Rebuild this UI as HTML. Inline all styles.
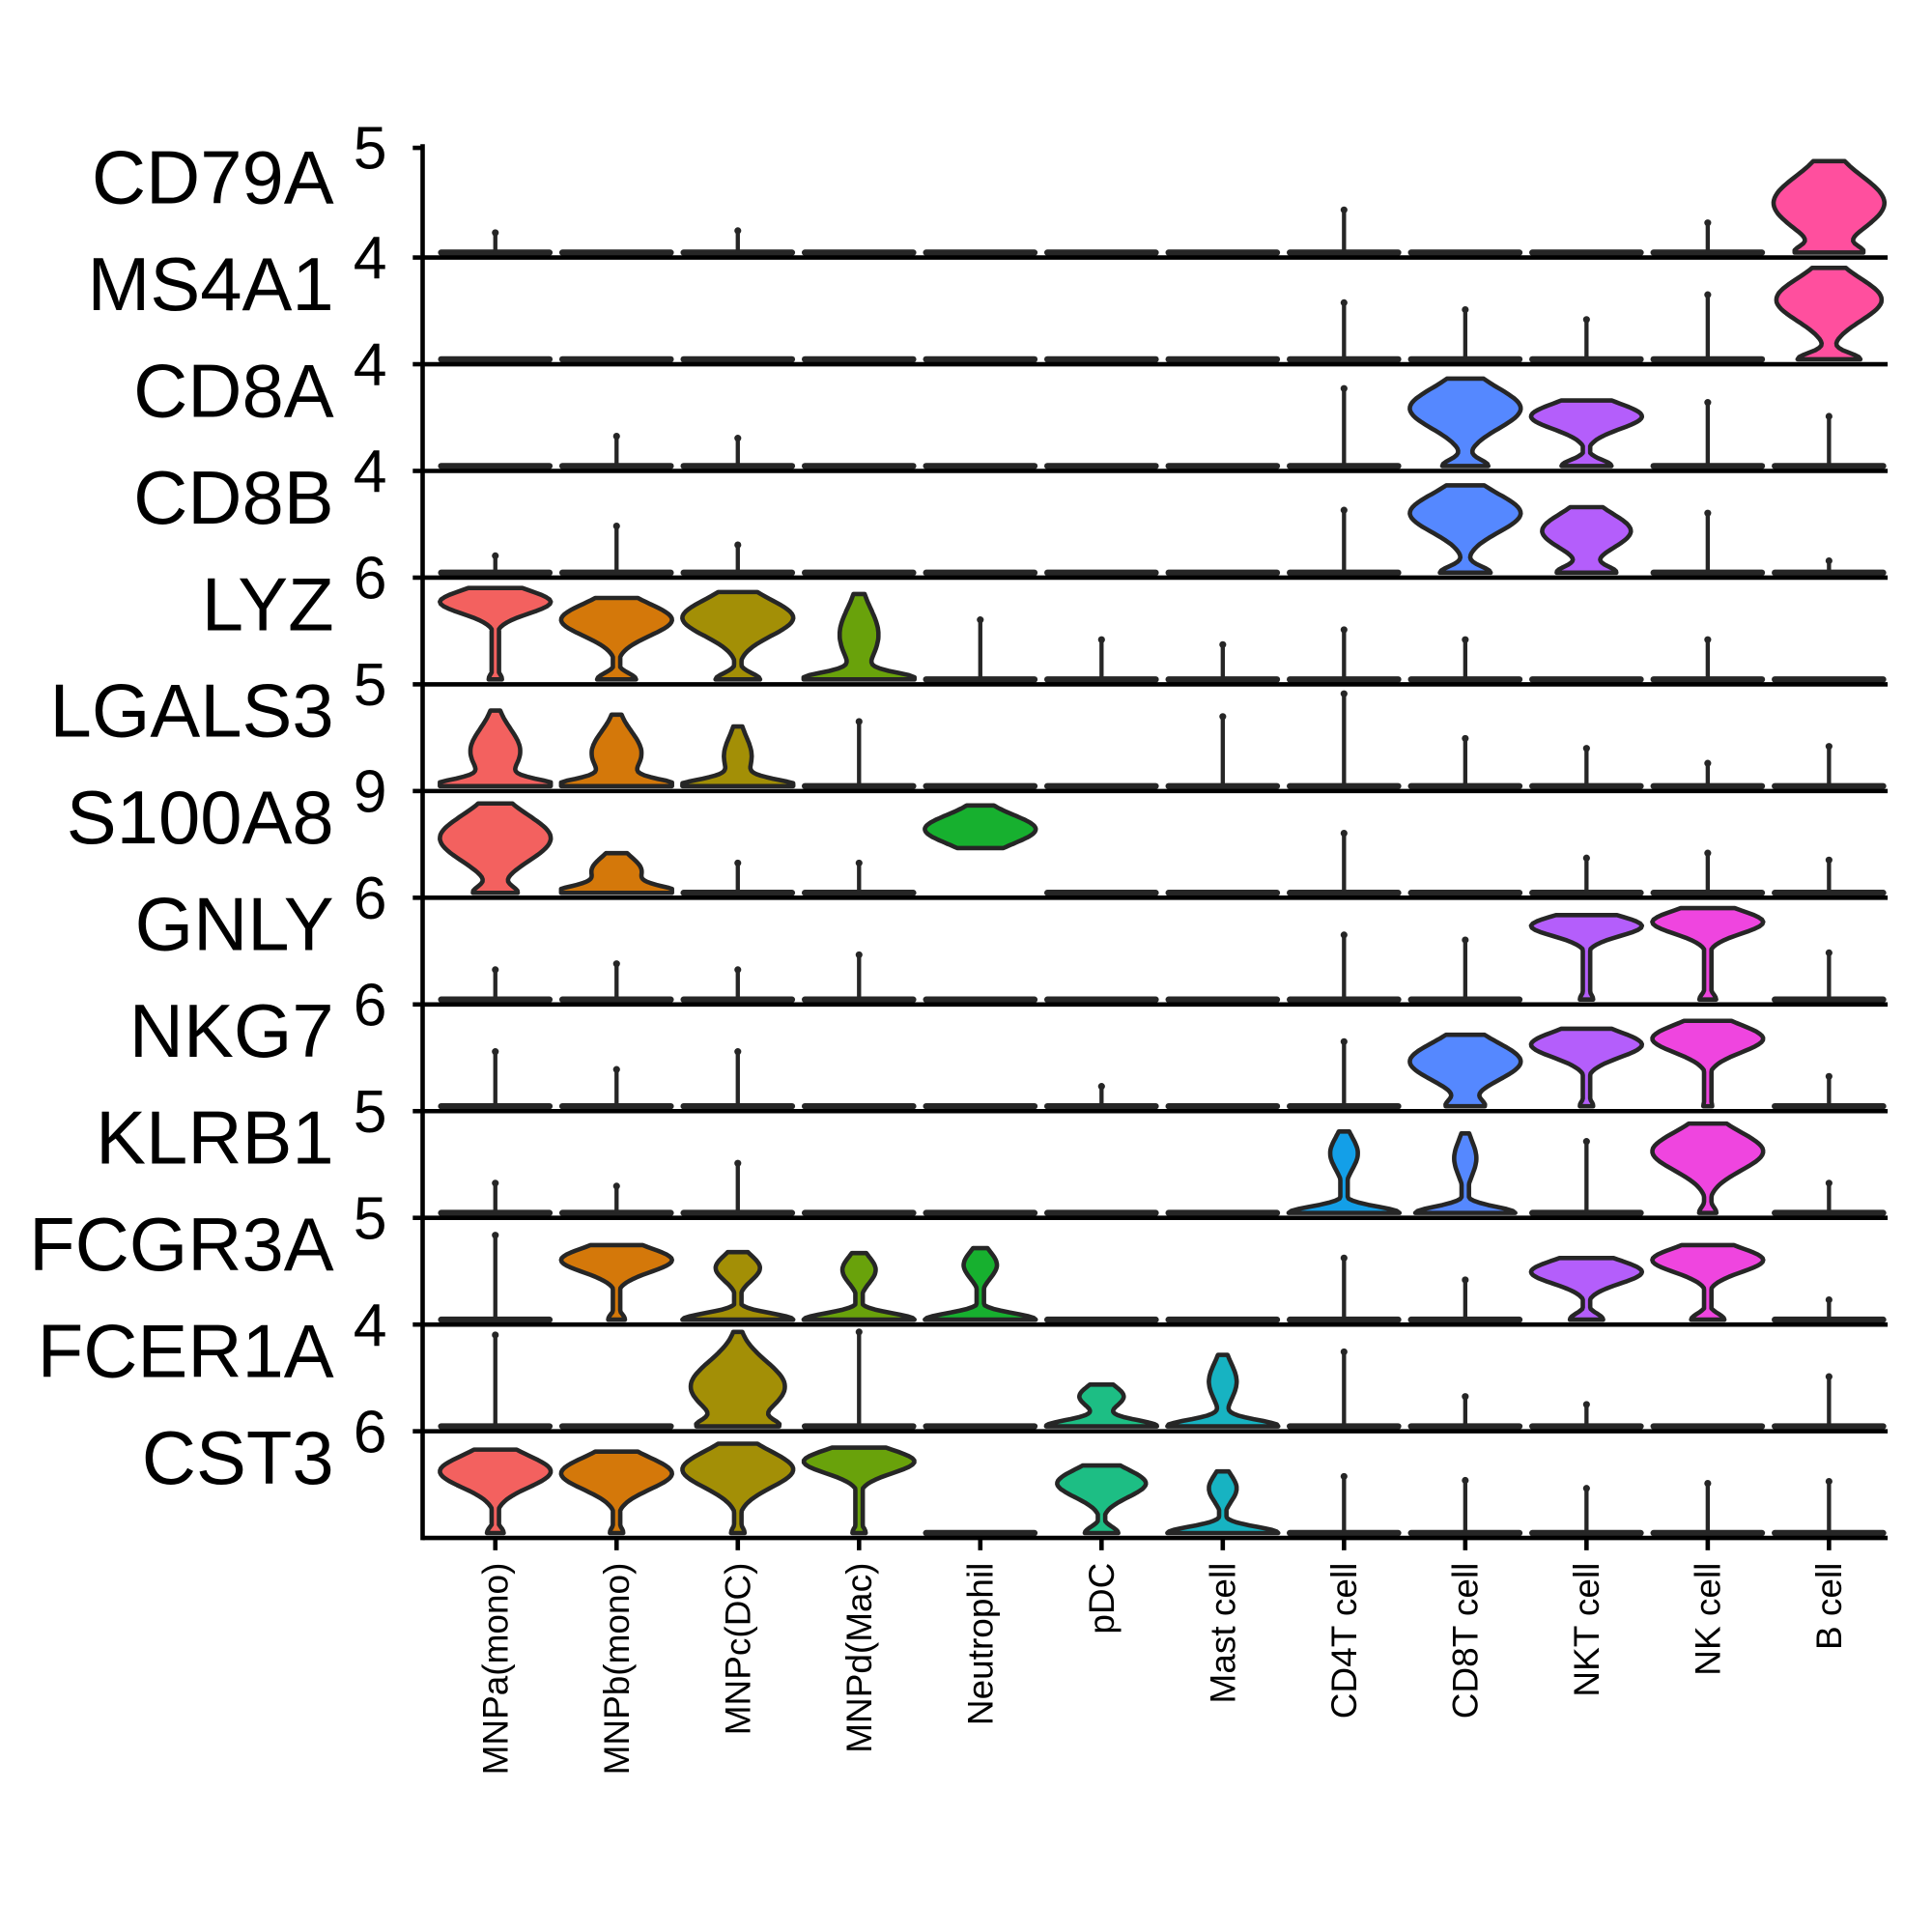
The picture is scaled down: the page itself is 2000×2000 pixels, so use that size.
<!DOCTYPE html>
<html><head><meta charset="utf-8"><style>
html,body{margin:0;padding:0;background:#fff;}
svg{display:block;}
text{font-family:"Liberation Sans",Arial,sans-serif;fill:#000;}
</style></head><body>
<svg id="chart" width="2000" height="2000" viewBox="0 0 1568 1568" xmlns="http://www.w3.org/2000/svg">
<g id="marks"></g>
<g id="axes"></g>
</svg>
<script>
const genes = ["CD79A","MS4A1","CD8A","CD8B","LYZ","LGALS3","S100A8","GNLY","NKG7","KLRB1","FCGR3A","FCER1A","CST3"];
const tickLabels = ["5","4","4","4","6","5","9","6","6","5","5","4","6"];
const clusters = ["MNPa(mono)","MNPb(mono)","MNPc(DC)","MNPd(Mac)","Neutrophil","pDC","Mast cell","CD4T cell","CD8T cell","NKT cell","NK cell","B cell"];
const colors = ["#F3615F","#D4780A","#A38F06","#69A20B","#17B02F","#1DBE84","#17B3C2","#139FE8","#5588FF","#B45EFB","#EF45DF","#FF4F9E"];
// violin top (fraction of panel), 0 = no violin
const topVals = [
 [0,0,0,0,0,0,0,0,0,0,0,.92],
 [0,0,0,0,0,0,0,0,0,0,0,.92],
 [0,0,0,0,0,0,0,0,.88,.66,0,0],
 [0,0,0,0,0,0,0,0,.88,.66,0,0],
 [.92,.82,.88,.86,0,0,0,0,0,0,0,0],
 [.76,.72,.6,0,0,0,0,0,0,0,0,0],
 [.9,.4,0,0,.88,0,0,0,0,0,0,0],
 [0,0,0,0,0,0,0,0,0,.85,.92,0],
 [0,0,0,0,0,0,0,0,.72,.78,.86,0],
 [0,0,0,0,0,0,0,.82,.8,0,.9,0],
 [0,.75,.68,.67,.72,0,0,0,0,.62,.75,0],
 [0,0,.95,0,0,.42,.72,0,0,0,0,0],
 [.84,.82,.9,.86,0,.68,.62,0,0,0,0,0]];
// height of widest point (fraction of panel)
const peakVals = [
 [0,0,0,0,0,0,0,0,0,0,0,.5],
 [0,0,0,0,0,0,0,0,0,0,0,.6],
 [0,0,0,0,0,0,0,0,.58,.5,0,0],
 [0,0,0,0,0,0,0,0,.6,.42,0,0],
 [.78,.6,.62,.45,0,0,0,0,0,0,0,0],
 [.35,.33,.3,0,0,0,0,0,0,0,0,0],
 [.55,.22,0,0,.64,0,0,0,0,0,0,0],
 [0,0,0,0,0,0,0,0,0,.74,.78,0],
 [0,0,0,0,0,0,0,0,.45,.62,.68,0],
 [0,0,0,0,0,0,0,.6,.55,0,.62,0],
 [0,.6,.52,.5,.55,0,0,0,0,.48,.6,0],
 [0,0,.4,0,0,.3,.45,0,0,0,0,0],
 [.62,.6,.64,.72,0,.5,.45,0,0,0,0,0]];
// relative width at peak (0..1)
const widthVals = [
 [0,0,0,0,0,0,0,0,0,0,0,1],
 [0,0,0,0,0,0,0,0,0,0,0,.95],
 [0,0,0,0,0,0,0,0,1,1,0,0],
 [0,0,0,0,0,0,0,0,1,.8,0,0],
 [1,1,1,.35,0,0,0,0,0,0,0,0],
 [.45,.45,.25,0,0,0,0,0,0,0,0,0],
 [1,.45,0,0,1,0,0,0,0,0,0,0],
 [0,0,0,0,0,0,0,0,0,1,1,0],
 [0,0,0,0,0,0,0,0,1,1,1,0],
 [0,0,0,0,0,0,0,.25,.2,0,1,0],
 [0,1,.4,.3,.3,0,0,0,0,1,1,0],
 [0,0,.85,0,0,.4,.25,0,0,0,0,0],
 [1,1,1,1,.8,.8,.25,0,0,0,0,0]];
// relative width of base bulge (0..1)
const baseVals = [
 [0,0,0,0,0,0,0,0,0,0,0,.45],
 [0,0,0,0,0,0,0,0,0,0,0,.55],
 [0,0,0,0,0,0,0,0,.4,.45,0,0],
 [0,0,0,0,0,0,0,0,.45,.5,0,0],
 [.12,.35,.4,1,0,0,0,0,0,0,0,0],
 [1,1,1,0,0,0,0,0,0,0,0,0],
 [.35,1,0,0,0,0,0,0,0,0,0,0],
 [0,0,0,0,0,0,0,0,0,.12,.15,0],
 [0,0,0,0,0,0,0,0,.3,.12,.08,0],
 [0,0,0,0,0,0,0,1,.9,0,.15,0],
 [0,.15,1,1,1,0,0,0,0,.3,.3,0],
 [0,0,.5,0,0,1,1,0,0,0,0,0],
 [.15,.12,.12,.12,0,.3,1,0,0,0,0,0]];
// floor of floating violins (fraction of panel)
const floorVals = [
 [0,0,0,0,0,0,0,0,0,0,0,0],[0,0,0,0,0,0,0,0,0,0,0,0],[0,0,0,0,0,0,0,0,0,0,0,0],
 [0,0,0,0,0,0,0,0,0,0,0,0],[0,0,0,0,0,0,0,0,0,0,0,0],[0,0,0,0,0,0,0,0,0,0,0,0],
 [0,0,0,0,.45,0,0,0,0,0,0,0],[0,0,0,0,0,0,0,0,0,0,0,0],[0,0,0,0,0,0,0,0,0,0,0,0],
 [0,0,0,0,0,0,0,0,0,0,0,0],[0,0,0,0,0,0,0,0,0,0,0,0],[0,0,0,0,0,0,0,0,0,0,0,0],
 [0,0,0,0,0,0,0,0,0,0,0,0]];
// outlier spike heights for non-expressing clusters (fraction of panel)
const spikeVals = [
 [.2,0,.22,0,0,0,0,.43,0,0,.3,0],
 [0,0,0,0,0,0,0,.57,.5,.4,.65,0],
 [0,.3,.28,0,0,0,0,.78,0,0,.64,.5],
 [.17,.47,.28,0,0,0,0,.63,0,0,.6,.12],
 [0,0,0,0,.6,.4,.35,.5,.4,0,.4,0],
 [0,0,0,.65,0,0,.7,.93,.48,.38,.23,.4],
 [0,0,.3,.3,0,0,0,.6,0,.35,.4,.33],
 [.3,.36,.3,.45,0,0,0,.65,.6,0,0,.47],
 [.55,.37,.55,0,0,.2,0,.65,0,0,0,.3],
 [.3,.27,.5,0,0,0,0,0,0,.72,0,.3],
 [.85,0,0,0,0,0,0,.62,.4,0,0,.2],
 [.92,0,0,.95,0,0,0,.75,.3,.22,0,.5],
 [0,0,0,0,0,0,0,.57,.53,.45,.5,.52]];

const NS = "http://www.w3.org/2000/svg";
const AX_L = 343, AX_R = 1532, AX_TOP = 117, PB0 = 209, PH = 86.6, X0 = 402, DX = 98.4, HW = 45;
function xPos(j){ return X0 + DX*j; }
function panelBottom(i){ return PB0 + PH*i; }
function yPos(i, v){ return panelBottom(i) - 4 - v*(PH-6); }
function mk(tag, attrs, parent){
  const e = document.createElementNS(NS, tag);
  for (const k in attrs) e.setAttribute(k, attrs[k]);
  parent.appendChild(e); return e;
}
const marks = document.getElementById('marks');
const axes = document.getElementById('axes');

genes.forEach((g, i) => {
  clusters.forEach((c, j) => {
    const cx = xPos(j);
    const t = topVals[i][j];
    if (t > 0) {
      const p = peakVals[i][j], w = widthVals[i][j], b = baseVals[i][j], f = floorVals[i][j];
      const sig = Math.max(0.12, Math.min(p - f, t - p) * 0.75 + 0.06);
      const pts = [];
      const N = 40;
      for (let k = 0; k <= N; k++) {
        const h = f + (t - f) * k / N;
        let wd = w * HW * Math.exp(-Math.pow((h - p) / sig, 2)) + b * HW * Math.exp(-Math.pow((h - f) / 0.09, 2));
        wd = Math.max(3, Math.min(HW, wd));
        pts.push([h, wd]);
      }
      let d = "";
      pts.forEach((q, k) => { d += (k ? "L" : "M") + (cx - q[1]).toFixed(1) + "," + yPos(i, q[0]).toFixed(1); });
      for (let k = pts.length - 1; k >= 0; k--) d += "L" + (cx + pts[k][1]).toFixed(1) + "," + yPos(i, pts[k][0]).toFixed(1);
      d += "Z";
      const v = mk('path', {d: d, fill: colors[j], stroke: "#262626", "stroke-width": 3.6, "stroke-linejoin": "round"}, marks);
      
      
    } else {
      const flat = mk('line', {x1: cx - HW + 1, x2: cx + HW - 1, y1: yPos(i, 0), y2: yPos(i, 0), stroke: "#262626", "stroke-width": 5, "stroke-linecap": "round"}, marks);
      
      
    }
    const s = spikeVals[i][j];
    if (s > 0) {
      const sp = mk('line', {x1: cx, x2: cx, y1: yPos(i, 0), y2: yPos(i, s), stroke: "#262626", "stroke-width": 3.4}, marks);
      
      
      const dot = mk('circle', {cx: cx, cy: yPos(i, s), r: 2.8, fill: "#262626"}, marks);
      
      
    }
  });
  const pb = panelBottom(i);
  const bl = mk('line', {x1: AX_L, x2: AX_R, y1: pb, y2: pb, stroke: "#000", "stroke-width": 3.6}, axes);
  
  
  const ty = i === 0 ? AX_TOP + 3 : panelBottom(i - 1);
  const tk = mk('line', {x1: AX_L - 8, x2: AX_L, y1: ty, y2: ty, stroke: "#000", "stroke-width": 3.6}, axes);
  
  
  const tl = mk('text', {x: 314, y: ty + 17, "text-anchor": "end", "font-size": 49}, axes);
  tl.textContent = tickLabels[i];
  
  
  const gl = mk('text', {x: 271, y: pb - 44, "text-anchor": "end", "font-size": 61}, axes);
  gl.textContent = g;
  
  
});
const ya = mk('line', {x1: AX_L, x2: AX_L, y1: AX_TOP, y2: panelBottom(genes.length - 1) + 1.8, stroke: "#000", "stroke-width": 3.6}, axes);


const lastB = panelBottom(genes.length - 1);
clusters.forEach((c, j) => {
  const x = xPos(j);
  const t = mk('line', {x1: x, x2: x, y1: lastB, y2: lastB + 10, stroke: "#000", "stroke-width": 3.6}, axes);
  
  
  const tx = mk('text', {x: 0, y: 0, "text-anchor": "end", "font-size": 29, transform: "translate(" + (x + 10) + "," + (lastB + 20) + ") rotate(-90)"}, axes);
  tx.textContent = c;
  
  
});
</script>
</body></html>
